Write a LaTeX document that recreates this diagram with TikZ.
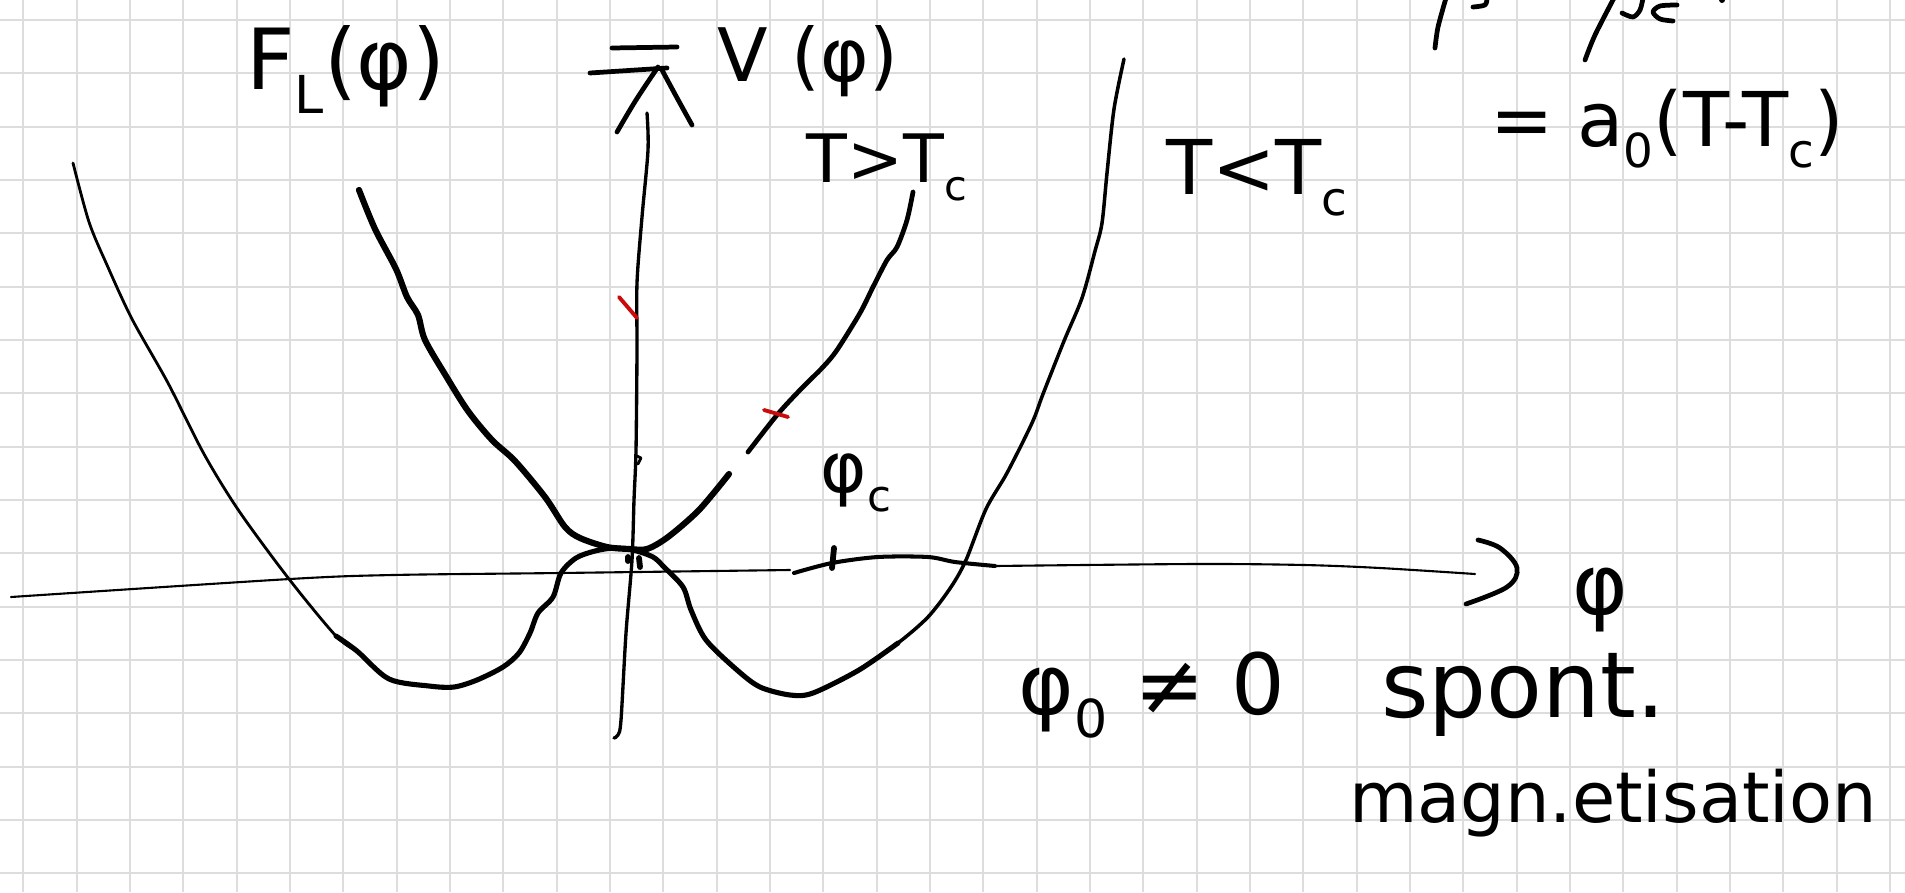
\documentclass[tikz,border=0pt]{standalone}
\usepackage{fontspec}
\setmainfont{DejaVu Sans}
\definecolor{gridgray}{RGB}{221,221,221}
\definecolor{redink}{RGB}{200,12,12}
\newcommand{\fsz}[1]{\fontsize{#1}{#1}\selectfont}
\newcommand{\lowsub}[1]{\raisebox{-0.28em}{\scalebox{0.62}{#1}}}
\begin{document}
\begin{tikzpicture}[x=0.02cm,y=-0.02cm,
  gridline/.style={draw=gridgray,line width=1.1pt},
  thickink/.style={line width=3.3pt,line cap=round,line join=round},
  midink/.style={line width=2.7pt,line cap=round,line join=round},
  thinink/.style={line width=1.6pt,line cap=round,line join=round},
  axisink/.style={line width=1.2pt,line cap=round,line join=round},
  redtick/.style={draw=redink,line width=2.2pt,line cap=round},
  lbl/.style={inner sep=0pt,outer sep=0pt}]
\useasboundingbox (0,0) rectangle (1905,892);
\clip (0,0) rectangle (1905,892);
\fill[white] (0,0) rectangle (1905,892);
% grid paper
\foreach \i in {0,...,35} {\draw[gridline] ({23.33+53.333*\i},0) -- ({23.33+53.333*\i},892);}
\foreach \j in {0,...,16} {\draw[gridline] (0,{20+53.333*\j}) -- (1905,{20+53.333*\j});}

% axis anchors
\coordinate (xstart) at (11,597);
\coordinate (xend) at (1475,574);
\coordinate (ystart) at (614,738);
\coordinate (yend) at (647,113);

% horizontal axis
\draw[axisink] plot[smooth,tension=0.5] coordinates {(xstart) (290,579) (393,575) (560,573) (790,570)};
\draw[midink,line width=2.3pt] plot[smooth,tension=0.5] coordinates {(794,573) (832,563) (878,557) (928,557) (955,562) (995,566)};
\draw[axisink] plot[smooth,tension=0.5] coordinates {(995,566) (1196,564) (1304,565) (1380,568) (xend)};
\draw[midink] plot[smooth,tension=0.6] coordinates {(1478,540) (1500,548) (1517,568) (1507,587) (1466,604)};
% tick at phi_c
\draw[thickink] (834,548) -- (832,568);

% vertical axis
\draw[thinink,line width=1.9pt] plot[smooth,tension=0.5] coordinates {(ystart) (618,735) (621,720) (626,633) (632,560) (634,500) (636,450) (637,350) (637,283) (642,217) (648,150) (yend)};
\draw[midink] plot[smooth,tension=0.6] coordinates {(617,132) (636,100) (658,67)};
\draw[midink] plot[smooth,tension=0.6] coordinates {(662,70) (676,96) (692,125)};
\draw[midink] (590,73) -- (667,68);
\draw[midink] (612,48) -- (677,47);
% small marks on vertical axis
\draw[thinink] (637,456) -- (641,458) -- (638,464);
\draw[thickink] (628,557) -- (628,561);
\draw[thickink] (639,558) -- (640,567);

% curve T<Tc (double well)
\draw[thinink] plot[smooth,tension=0.5] coordinates {(73,163) (89,222) (107,265) (132,319) (168,383) (204,454) (239,511) (289,579) (336,636) (357,651)};
\draw[midink,line width=2.9pt] plot[smooth,tension=0.5] coordinates {(336,636) (357,651) (389,679) (429,686) (454,687) (477,680) (503,667) (519,653) (530,633) (538,613) (553,597) (561,573) (576,558) (595,551) (614,548) (633,550) (653,557) (664,567) (683,587) (691,610) (706,640) (737,670) (760,687) (790,695) (813,693) (859,670) (898,643)};
\draw[thinink,line width=2pt] plot[smooth,tension=0.5] coordinates {(859,670) (898,643) (928,617) (951,587) (966,560) (986,509) (1007,473) (1032,423) (1043,394) (1064,341) (1082,298) (1095,251) (1102,223) (1107,173) (1114,109) (1124,59)};

% curve T>Tc (single well)
\draw[thickink,line width=3.5pt] plot[smooth,tension=0.5] coordinates {(359,190) (375,229) (396,269) (407,297) (418,315) (425,340) (446,376) (468,411) (492,440) (515,461) (545,497) (565,527) (580,538) (607,547) (630,549) (647,549) (668,537) (699,510) (729,474)};
\draw[midink] plot[smooth,tension=0.5] coordinates {(748,452) (777,415) (800,390) (823,367) (837,350) (860,313) (873,287) (887,260) (897,247) (907,220) (913,192)};

% red ticks
\draw[redtick] (619,297) -- (637,318);
\draw[redtick] (764,410) -- (788,417);

% partial strokes cut off at the top edge
\draw[midink] plot[smooth,tension=0.5] coordinates {(1435,48) (1438,27) (1446,-2)};
\draw[midink] plot[smooth,tension=0.5] coordinates {(1473,7) (1485,5) (1487,-2)};
\draw[midink] plot[smooth,tension=0.5] coordinates {(1585,60) (1595,35) (1614,-2)};
\draw[midink] plot[smooth,tension=0.5] coordinates {(1622,13) (1633,17) (1640,10) (1643,-2)};
\draw[midink] plot[smooth,tension=0.5] coordinates {(1677,5) (1660,6) (1653,12) (1660,19) (1673,21)};
\fill (1722,0) circle (3);

% labels
\node[lbl,anchor=base] (FL) at (346,90) {\fsz{48}F\lowsub{L}(φ)};
\node[lbl,anchor=base] (V) at (808,82) {\fsz{42}V (φ)};
\node[lbl,anchor=base] (Tgt) at (887,182) {\fsz{38}T>T\lowsub{c}};
\node[lbl,anchor=base] (Tlt) at (1257,194) {\fsz{43}T<T\lowsub{c}};
\node[lbl,anchor=base] (alpha) at (1667,146) {\fsz{43}= a\lowsub{0}(T-T\lowsub{c})};
\node[lbl] (phic) at (856,483) {\fsz{40}φ\lowsub{c}};
\node[lbl] (phi) at (1600,600) {\fsz{48}φ};
\node[lbl,anchor=base] (phi0) at (1152,714) {\fsz{48}φ\lowsub{0} ≠ 0};
\node[lbl,anchor=base west] (spont) at (1381,717) {\fsz{52}spont.};
\node[lbl,anchor=base west] (magn) at (1349,822) {\fsz{40}magn.etisation};
\end{tikzpicture}
\end{document}
